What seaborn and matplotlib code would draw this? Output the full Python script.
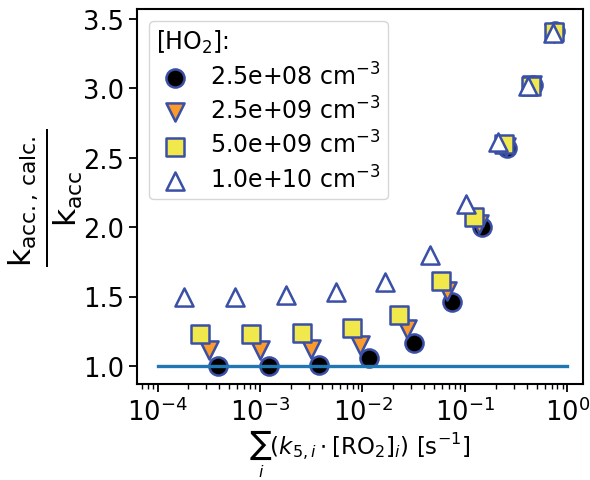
import matplotlib
matplotlib.use("Agg")
import matplotlib.pyplot as plt
import seaborn as sns
import pandas as pd

# ---- data ----
series_labels = [r"2.5e+08 cm$^{-3}$", r"2.5e+09 cm$^{-3}$",
                 r"5.0e+09 cm$^{-3}$", r"1.0e+10 cm$^{-3}$"]

x_c = [3.85e-4, 1.21e-3, 3.79e-3, 1.15e-2, 3.19e-2, 7.45e-2, 0.148, 0.26, 0.465, 0.76]
y_c = [1.00, 1.00, 1.005, 1.055, 1.165, 1.457, 2.00, 2.57, 3.02, 3.41]

x_it = [3.2e-4, 1.0e-3, 3.14e-3, 9.44e-3, 2.75e-2, 6.75e-2, 0.138, 0.25, 0.45, 0.745]
y_it = [1.113, 1.113, 1.125, 1.149, 1.264, 1.54, 2.02, 2.58, 3.02, 3.40]

x_s = [2.6e-4, 8.15e-4, 2.56e-3, 7.87e-3, 2.28e-2, 5.82e-2, 0.123, 0.241, 0.44, 0.741]
y_s = [1.228, 1.228, 1.24, 1.272, 1.365, 1.61, 2.076, 2.597, 3.017, 3.402]

x_t = [1.8e-4, 5.69e-4, 1.79e-3, 5.54e-3, 1.66e-2, 4.54e-2, 0.1035, 0.212, 0.417, 0.73]
y_t = [1.493, 1.50, 1.509, 1.536, 1.608, 1.80, 2.165, 2.614, 3.013, 3.397]

ref_x = [1e-4, 1.0]
ref_y = [1.0, 1.0]

xs = [x_c, x_it, x_s, x_t]
ys = [y_c, y_it, y_s, y_t]
markers = ["o", "v", "s", "^"]
fills = ["black", "#fa9b2b", "#f1e84c", "white"]
edge = "#3a4fa6"

plt.rcParams["font.family"] = ["DejaVu Sans"]
plt.rcParams["mathtext.fontset"] = "dejavusans"

fig = plt.figure(figsize=(5.9, 4.81), dpi=100)
ax = fig.add_axes([137/590, 1-385/481, (583-137)/590, (385-10)/481])

for x, y, m, f, lab in zip(xs, ys, markers, fills, series_labels):
    df = pd.DataFrame({"x": x, "y": y})
    sns.scatterplot(data=df, x="x", y="y", ax=ax, marker=m, color=f,
                    edgecolor=edge, linewidth=1.8, s=170, label=lab, zorder=2)

sns.lineplot(x=ref_x, y=ref_y, ax=ax, color="#1f77b4", linewidth=2.4,
             zorder=3, legend=False)

ax.set_xscale("log")
ax.set_xlim(6.3e-5, 1.42)
ax.set_ylim(0.87, 3.57)
ax.set_yticks([1.0, 1.5, 2.0, 2.5, 3.0, 3.5])

for s in ax.spines.values():
    s.set_linewidth(1.5)
ax.tick_params(axis="both", which="major", labelsize=18.5, length=6, width=1.3)
ax.tick_params(axis="both", which="minor", length=3.5, width=1.0)

ax.set_xlabel(r"$\sum_i(k_{5,i}\cdot[\mathrm{RO_2}]_i)$ [s$^{-1}$]", fontsize=16.5,
              labelpad=1)
ax.set_ylabel(r"$\frac{\mathrm{k_{acc.,\,calc.}}}{\mathrm{k_{acc}}}$", fontsize=32,
              labelpad=-1)

leg = ax.legend(title=r"[HO$_2$]:", loc="upper left", fontsize=17,
                title_fontsize=17, handlelength=1.6, handletextpad=0.7,
                labelspacing=0.3, borderpad=0.3, alignment="left")

fig.savefig("out.png", dpi=100)
